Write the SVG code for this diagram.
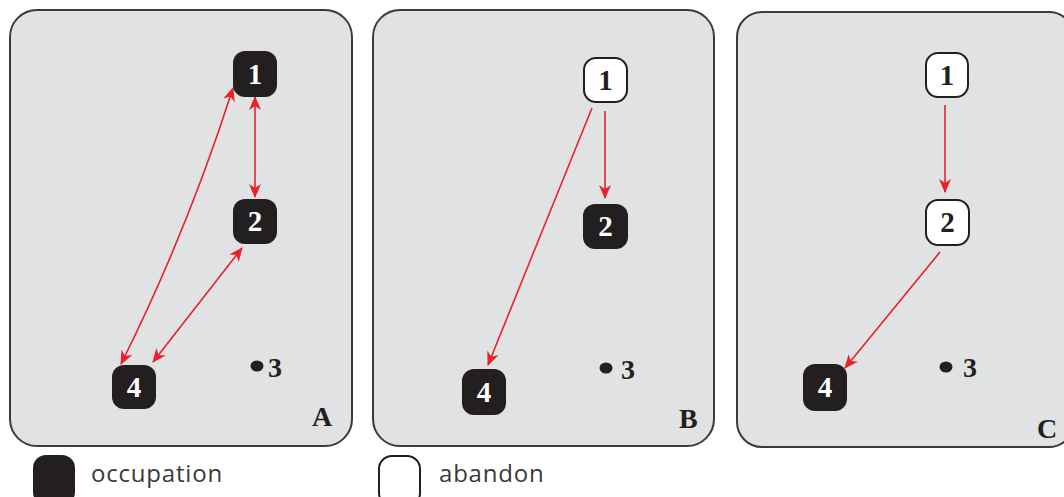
<svg xmlns="http://www.w3.org/2000/svg" width="1064" height="497" viewBox="0 0 1064 497">
  <defs>
    <style>
      .panel { fill: #e1e2e4; stroke: #3b3b3c; stroke-width: 2; }
      .occ { fill: #231f20; }
      .occ-t { fill: #ffffff; }
      .abd { fill: #ffffff; stroke: #231f20; stroke-width: 2; }
      .abd-t { fill: #231f20; }
      .num { font-family: "Liberation Serif", "Times New Roman", serif; font-weight: bold; font-size: 29px; text-anchor: middle; }
      .site { fill: #231f20; }
      .lbl { font-family: "Liberation Serif", "Times New Roman", serif; font-weight: bold; font-size: 28px; fill: #231f20; }
      .legend { font-family: "Open Sans", "Liberation Sans", sans-serif; font-size: 24px; letter-spacing: 0.8px; fill: #3a3a3a; }
      .link { fill: none; stroke: #e8212b; stroke-width: 1.6; }
    </style>
    <marker id="head" viewBox="0 0 14 12" refX="13" refY="6" markerWidth="14" markerHeight="12" markerUnits="userSpaceOnUse" orient="auto-start-reverse">
      <path d="M0,0 L14,6 L0,12 L4,6 z" fill="#e8212b"/>
    </marker>
  </defs>

  <!-- panels -->
  <g id="panels">
    <rect id="panel-A" class="panel" x="10" y="10" width="342" height="436" rx="27"/>
    <rect id="panel-B" class="panel" x="373" y="10" width="341" height="436" rx="27"/>
    <rect id="panel-C" class="panel" x="737" y="12" width="337" height="435" rx="25"/>
  </g>

  <!-- connectors -->
  <g id="connectors">
    <path class="link" d="M255,97 L255,197" marker-start="url(#head)" marker-end="url(#head)"/>
    <path class="link" d="M233,88 Q187,232 121,364" marker-start="url(#head)" marker-end="url(#head)"/>
    <path class="link" d="M242,248 L153,362" marker-start="url(#head)" marker-end="url(#head)"/>
    <path class="link" d="M605,111 L605,198" marker-end="url(#head)"/>
    <path class="link" d="M592,108 L488,365" marker-end="url(#head)"/>
    <path class="link" d="M945,105 L945,192" marker-end="url(#head)"/>
    <path class="link" d="M940,252 L845,368" marker-end="url(#head)"/>
  </g>

  <!-- panel A -->
  <g id="A-1"><rect class="occ" x="233" y="51" width="44" height="46" rx="12"/><text class="num occ-t" x="255" y="84">1</text></g>
  <g id="A-2"><rect class="occ" x="233" y="199" width="44" height="45" rx="12"/><text class="num occ-t" x="255" y="231">2</text></g>
  <g id="A-4"><rect class="occ" x="112" y="365" width="44" height="44" rx="12"/><text class="num occ-t" x="134" y="397">4</text></g>
  <g id="A-3"><ellipse class="site" cx="257" cy="366" rx="6.5" ry="5.5"/><text class="lbl" x="268" y="377">3</text></g>
  <text id="A-label" class="lbl" x="312" y="426">A</text>

  <!-- panel B -->
  <g id="B-1"><rect class="abd" x="584" y="58" width="43" height="44" rx="12"/><text class="num abd-t" x="605.5" y="90">1</text></g>
  <g id="B-2"><rect class="occ" x="583" y="204" width="45" height="45" rx="12"/><text class="num occ-t" x="605.5" y="236">2</text></g>
  <g id="B-4"><rect class="occ" x="462" y="369" width="44" height="46" rx="12"/><text class="num occ-t" x="484" y="402">4</text></g>
  <g id="B-3"><ellipse class="site" cx="606" cy="368" rx="6.5" ry="5.5"/><text class="lbl" x="621" y="379">3</text></g>
  <text id="B-label" class="lbl" x="679" y="428">B</text>

  <!-- panel C -->
  <g id="C-1"><rect class="abd" x="926" y="53" width="42" height="44" rx="12"/><text class="num abd-t" x="947" y="85">1</text></g>
  <g id="C-2"><rect class="abd" x="926" y="200" width="43" height="45" rx="12"/><text class="num abd-t" x="947.5" y="232">2</text></g>
  <g id="C-4"><rect class="occ" x="803" y="364" width="44" height="47" rx="12"/><text class="num occ-t" x="825" y="397">4</text></g>
  <g id="C-3"><ellipse class="site" cx="946" cy="367" rx="6.5" ry="5.5"/><text class="lbl" x="963" y="377">3</text></g>
  <text id="C-label" class="lbl" x="1037" y="438">C</text>

  <!-- legend -->
  <g id="legend-occupation">
    <rect class="occ" x="33" y="455" width="42" height="50" rx="13"/>
    <text class="legend" x="91" y="482">occupation</text>
  </g>
  <g id="legend-abandon">
    <rect class="abd" x="379" y="456" width="41" height="50" rx="13" stroke-width="1.4"/>
    <text class="legend" x="439" y="482">abandon</text>
  </g>
</svg>
